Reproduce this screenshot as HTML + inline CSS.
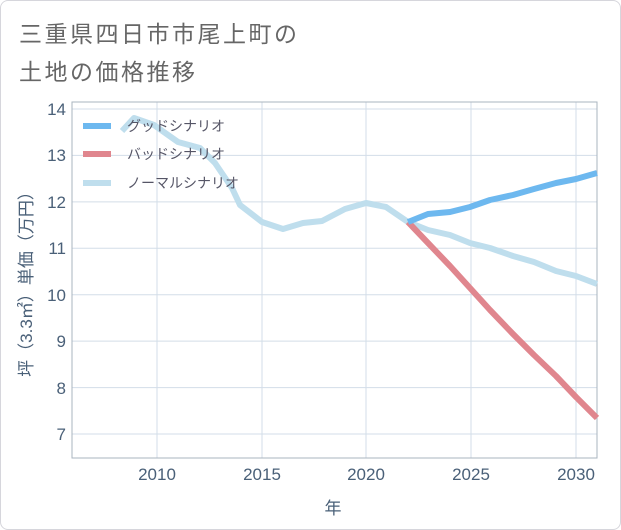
<!DOCTYPE html>
<html><head><meta charset="utf-8"><style>
body{margin:0;background:#fff;}
.wrap{position:relative;width:619px;height:528px;border:1px solid #d6d6dc;border-radius:8px;overflow:hidden;font-family:"Liberation Sans","Noto Sans CJK JP",sans-serif;}
.t{position:absolute;left:18px;font-size:23px;color:#666;letter-spacing:2.5px;}
</style></head><body><div class="wrap">
<div class="t" style="top:14px">三重県四日市市尾上町の</div>
<div class="t" style="top:52px">土地の価格推移</div>
<svg width="621" height="530" style="position:absolute;left:-1px;top:-1px" font-family="Liberation Sans, Noto Sans CJK JP, sans-serif">
<g stroke="#d3dde8" stroke-width="1">
<line x1="72" y1="109" x2="597" y2="109"/><line x1="72" y1="155.4" x2="597" y2="155.4"/>
<line x1="72" y1="201.9" x2="597" y2="201.9"/><line x1="72" y1="248.3" x2="597" y2="248.3"/>
<line x1="72" y1="294.7" x2="597" y2="294.7"/><line x1="72" y1="341.1" x2="597" y2="341.1"/>
<line x1="72" y1="387.6" x2="597" y2="387.6"/><line x1="72" y1="434" x2="597" y2="434"/>
<line x1="157" y1="102" x2="157" y2="458"/><line x1="262" y1="102" x2="262" y2="458"/>
<line x1="366" y1="102" x2="366" y2="458"/><line x1="471" y1="102" x2="471" y2="458"/>
<line x1="576" y1="102" x2="576" y2="458"/>
</g>
<rect x="72" y="102" width="525" height="356" fill="none" stroke="#aab4bf" stroke-width="1"/>
<g fill="#4a6078" font-size="17" text-anchor="end">
<text x="66" y="115">14</text><text x="66" y="161">13</text><text x="66" y="208">12</text><text x="66" y="254">11</text><text x="66" y="301">10</text><text x="66" y="347">9</text><text x="66" y="394">8</text><text x="66" y="440">7</text>
</g>
<g fill="#4a6078" font-size="17" text-anchor="middle">
<text x="157" y="480">2010</text><text x="262" y="480">2015</text><text x="366" y="480">2020</text><text x="471" y="480">2025</text><text x="576" y="480">2030</text>
<text x="333" y="514">年</text>
</g>
<text transform="translate(32,280) rotate(-90)" fill="#4a6078" font-size="17" text-anchor="middle">坪（3.3㎡）単価（万円）</text>
<g fill="none" stroke-width="6" stroke-linejoin="round" stroke-linecap="butt">
<polyline stroke="#bfdeed" points="122,131 134,118 154,125 178,142 200,148 215,163 232,188 240,205 262,222 283,229 303,223 322,221 345,209 366,203 386,207 408,222 428,230 450,235 470,243 490,248 513,256 534,262 556,271 576,276 597,284"/>
<polyline stroke="#e0868e" points="408,222 428,243 450,266 470,288 490,310 513,334 534,355 556,376 576,397 597,418"/>
<polyline stroke="#6db8ef" points="408,222 428,214 450,212 470,207 490,200 513,195 534,189 556,183 576,179 597,173"/>
</g>
<g stroke-width="6"><line x1="83" y1="126" x2="111" y2="126" stroke="#6db8ef"/><line x1="83" y1="154" x2="111" y2="154" stroke="#e0868e"/><line x1="83" y1="183" x2="111" y2="183" stroke="#bfdeed"/></g>
<g fill="#556" font-size="14"><text x="127" y="131">グッドシナリオ</text><text x="127" y="159">バッドシナリオ</text><text x="127" y="188">ノーマルシナリオ</text></g>
</svg></div></body></html>
